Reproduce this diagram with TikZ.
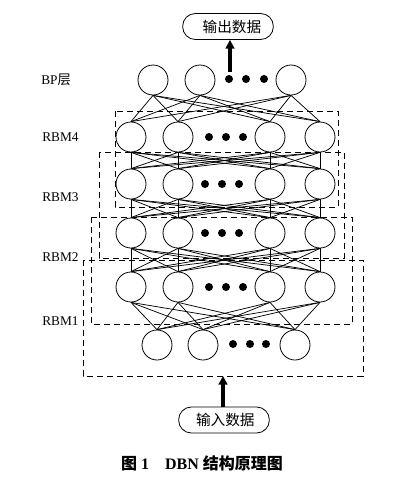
\documentclass[tikz,border=0pt]{standalone}
\usepackage{fontspec}
\setmainfont{Liberation Serif}
\newfontfamily\cjk{Noto Sans CJK SC}
\usepackage{tikz}
\usetikzlibrary{arrows.meta}

\tikzset{
  unit/.style={draw,circle,inner sep=0pt,minimum size=22.5pt,line width=0.6pt},
  dot/.style={fill,circle,inner sep=0pt,minimum size=6pt},
  iobox/.style={draw,line width=0.6pt,rounded corners=9.5pt,minimum width=68pt,minimum height=19.5pt,inner sep=0pt,font=\cjk\fontsize{11}{13}\selectfont},
  link/.style={line width=0.55pt},
  rbmbox/.style={line width=0.6pt,dash pattern=on 4.5pt off 3pt},
  layername/.style={anchor=west,inner sep=0pt},
  bigarrow/.style={line width=3pt,-{Triangle[length=6.5pt,width=6.5pt]}}
}

\begin{document}
\begin{tikzpicture}[x=0.75pt,y=0.75pt,yscale=-1,xscale=1]
\useasboundingbox (0,0) rectangle (409,487);

%Output box
\node[iobox] (out) at (228,26.5) {\hspace*{6pt}输出数据};

%BP layer
\node[unit] (bp1) at (153,80) {};
\node[unit] (bp2) at (200,80) {};
\node[unit] (bp3) at (291,80) {};
\node[dot] (bpd1) at (229,79) {};
\node[dot] (bpd2) at (246,79) {};
\node[dot] (bpd3) at (264,79) {};

%Hidden layers (4 visible units each)
\foreach \name/\y/\dx in {h4/137/0,h3/184/-4,h2/233/-4,h1/287/0}{
  \node[unit] (\name1) at (131,\y) {};
  \node[unit] (\name2) at (178,\y) {};
  \node[unit] (\name3) at (270,\y) {};
  \node[unit] (\name4) at (320,\y) {};
  \node[dot] (\name d1) at (209+\dx,\y) {};
  \node[dot] (\name d2) at (226+\dx,\y) {};
  \node[dot] (\name d3) at (243+\dx,\y) {};
}

%Visible layer
\node[unit] (v1) at (157,345) {};
\node[unit] (v2) at (203,345) {};
\node[unit] (v3) at (295,345) {};
\node[dot] (vd1) at (233,344) {};
\node[dot] (vd2) at (250,344) {};
\node[dot] (vd3) at (266,344) {};

%Input box
\node[iobox] (in) at (224,420) {\hspace*{2pt}输入数据};

%Connections
\foreach \i in {1,2,3}
  \foreach \j in {1,...,4}
    \draw[link] (bp\i.south) -- (h4\j.north);
\foreach \up/\dn in {h4/h3,h3/h2,h2/h1}
  \foreach \i in {1,...,4}
    \foreach \j in {1,...,4}
      \draw[link] (\up\i.south) -- (\dn\j.north);
\foreach \i in {1,...,4}
  \foreach \j in {1,2,3}
    \draw[link] (h1\i.south) -- (v\j.north);

%RBM boxes
\draw[rbmbox] (115,111) rectangle (338,207);
\draw[rbmbox] (99,152) rectangle (344,258);
\draw[rbmbox] (91,217) rectangle (352,324);
\draw[rbmbox] (83,260) rectangle (363,376);

%Arrows
\coordinate (outfoot) at (230,72);
\coordinate (infoot) at (223,376);
\draw[bigarrow] (outfoot) -- (out.south -| outfoot);
\draw[bigarrow] (in.north -| infoot) -- (infoot);

%Layer names
\node[layername] (nbp) at (41,80) {BP{\cjk 层}};
\node[layername] (n4) at (42,137) {RBM4};
\node[layername] (n3) at (42,197) {RBM3};
\node[layername] (n2) at (42,257) {RBM2};
\node[layername] (n1) at (42,321) {RBM1};

%Caption
\node[font=\fontsize{12}{14}\selectfont\bfseries] (cap) at (202,463) {{\cjk 图} 1\quad DBN {\cjk 结构原理图}};

\end{tikzpicture}
\end{document}
